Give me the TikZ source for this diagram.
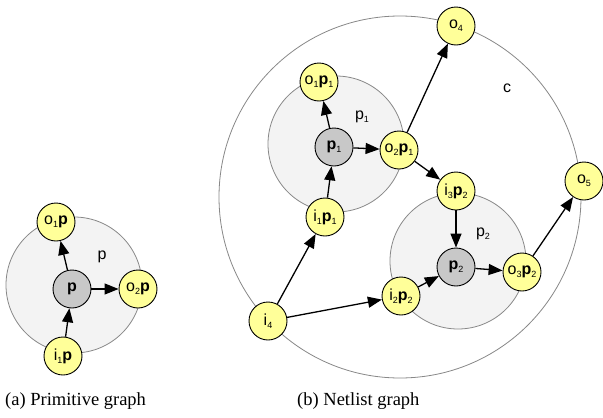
\documentclass[tikz,border=0pt]{standalone}
\usepackage{fontspec}
\setmainfont{Liberation Serif}
\setsansfont{Liberation Sans}
\usetikzlibrary{arrows.meta}
\definecolor{yellowfill}{HTML}{FFFF99}
\definecolor{greyfill}{HTML}{C8C8C8}
\definecolor{regionfill}{HTML}{F3F3F3}
\definecolor{regionline}{HTML}{888888}
\newcommand\sbs[1]{\raisebox{-0.35ex}{\fontsize{9}{10}\selectfont #1}}
\begin{document}
\begin{tikzpicture}[x=1pt,y=-1pt,
  vtx/.style={circle,draw=black,line width=0.9pt,fill=yellowfill,minimum size=38pt,inner sep=0pt,font=\sffamily\fontsize{16}{18}\selectfont},
  prim/.style={vtx,fill=greyfill},
  region/.style={circle,draw=regionline,fill=regionfill,line width=0.8pt,inner sep=0pt},
  outer/.style={circle,draw=regionline,fill=white,line width=0.8pt,inner sep=0pt},
  lbl/.style={font=\sffamily\fontsize{16}{18}\selectfont},
  arr/.style={-{Triangle[length=14pt,width=11pt]},line width=1.3pt},
  captxt/.style={font=\fontsize{18.5}{20}\selectfont,anchor=base west,inner sep=0pt}
]
\useasboundingbox (0,0) rectangle (603,418);
% ---- (a) primitive graph
\node[region,minimum size=136pt] (regA) at (74,285) {};
\node[lbl] (labA) at (102,257) {p};
\node[prim] (pA) at (72,289) {\textbf{p}};
\node[vtx] (o1A) at (56,222) {o\sbs{1}\textbf{p}};
\node[vtx] (o2A) at (138,289) {o\sbs{2}\textbf{p}};
\node[vtx] (i1A) at (63,356) {i\sbs{1}\textbf{p}};
\draw[arr] (pA) -- (o1A);
\draw[arr] (pA) -- (o2A);
\draw[arr] (i1A) -- (pA);
% ---- (b) netlist graph
\node[outer,minimum size=362pt] (regC) at (400,197) {};
\node[region,minimum size=136pt] (regP1) at (336,144) {};
\node[region,minimum size=136pt] (regP2) at (458,261) {};
\node[lbl] (labC) at (507,88) {c};
\node[lbl] (labP1) at (362,117) {p\sbs{1}};
\node[lbl] (labP2) at (483,234) {p\sbs{2}};
\node[prim] (p1) at (334,147) {\textbf{p}\sbs{1}};
\node[prim] (p2) at (456,267) {\textbf{p}\sbs{2}};
\node[vtx] (o1p1) at (319,82) {o\sbs{1}\textbf{p}\sbs{1}};
\node[vtx] (o2p1) at (399,150) {o\sbs{2}\textbf{p}\sbs{1}};
\node[vtx] (i1p1) at (325,217) {i\sbs{1}\textbf{p}\sbs{1}};
\node[vtx] (i3p2) at (456,191) {i\sbs{3}\textbf{p}\sbs{2}};
\node[vtx] (i2p2) at (401,296) {i\sbs{2}\textbf{p}\sbs{2}};
\node[vtx] (o3p2) at (522,272) {o\sbs{3}\textbf{p}\sbs{2}};
\node[vtx] (o4) at (456,26) {o\sbs{4}};
\node[vtx] (o5) at (584,181) {o\sbs{5}};
\node[vtx] (i4) at (268,321) {i\sbs{4}};
\draw[arr] (p1) -- (o1p1);
\draw[arr] (p1) -- (o2p1);
\draw[arr] (i1p1) -- (p1);
\draw[arr] (o2p1) -- (o4);
\draw[arr] (o2p1) -- (i3p2);
\draw[arr] (i3p2) -- (p2);
\draw[arr] (i2p2) -- (p2);
\draw[arr] (p2) -- (o3p2);
\draw[arr] (o3p2) -- (o5);
\draw[arr] (i4) -- (i1p1);
\draw[arr] (i4) -- (i2p2);
% ---- captions
\node[captxt] (capA) at (5,405) {(a) Primitive graph};
\node[captxt] (capB) at (297,405) {(b) Netlist graph};
\end{tikzpicture}
\end{document}
